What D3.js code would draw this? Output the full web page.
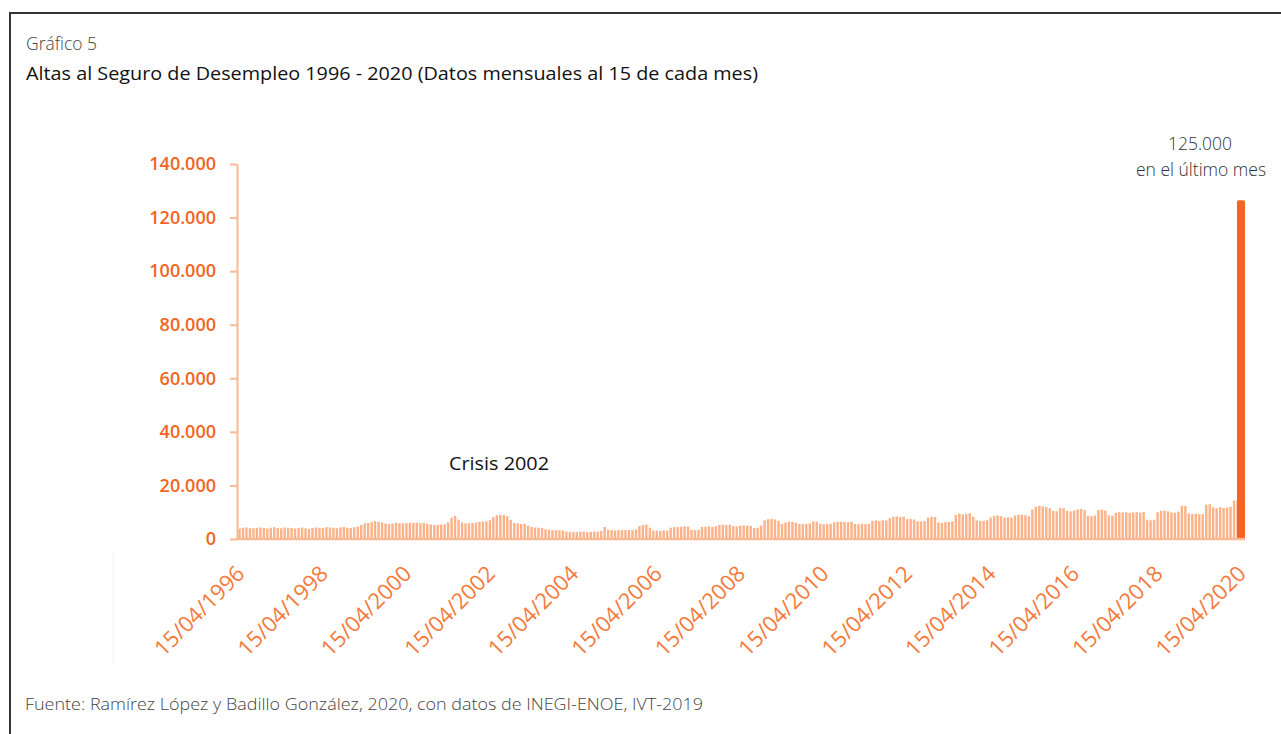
<!DOCTYPE html>
<html><head><meta charset="utf-8">
<script src="https://cdn.jsdelivr.net/npm/d3@7"></script>
<style>
html,body{margin:0;padding:0;background:#fff;}
svg{display:block;font-family:"Open Sans",sans-serif;}
</style></head>
<body>
<svg id="chart" width="1281" height="734"></svg>
<script>
// ---- DATA ----
const startYear = 1996; // series starts 15/04/1996, monthly
const values = [
 3900,4200,4300,4100,4000,4200,4300,4100,3900,4200,4400,4100,
 4000,4300,4200,4100,3900,4100,4300,4000,3800,4100,4300,4200,
 4100,4400,4300,4200,4000,4300,4500,4200,4100,4400,4600,5200,
 5800,6000,6300,6600,6400,6200,5800,5600,5700,6000,5900,5800,
 5900,6100,6000,6100,5900,6000,5700,5400,5300,5200,5400,5500,
 6200,8000,8600,7200,6200,5800,5900,6000,6100,6400,6500,6600,
 7000,8200,8900,9000,8900,8500,7200,6000,5800,5600,5700,5000,
 4500,4300,4200,4100,3600,3400,3300,3300,3200,3200,2800,2600,
 2700,2600,2700,2800,2600,2700,2800,2700,3000,4500,3400,3300,
 3200,3300,3400,3300,3400,3300,3600,4800,5200,5400,4200,3200,
 3100,3000,3200,3100,4200,4400,4500,4600,4700,4600,3500,3300,
 3400,4500,4600,4700,4500,4800,5300,5400,5200,5300,4800,4700,
 5000,5100,5000,4900,4100,4200,5000,7000,7400,7500,7300,6800,
 5600,6200,6500,6400,6100,5600,5500,5600,5800,6600,6500,5700,
 5500,5600,5700,6200,6400,6500,6400,6300,6400,5600,5500,5700,
 5600,5700,6800,6900,6700,7000,6900,7800,8300,8400,8200,8300,
 7400,7500,7300,6600,6500,6700,8000,8300,8200,6200,6000,6300,
 6400,6600,9000,9500,9200,9400,9600,8300,6900,6700,6800,7000,
 8000,8600,8800,8500,8000,8100,8000,8800,9000,9100,8900,8500,
 11000,12000,12400,12200,12000,11500,10500,10400,11600,11500,10500,10300,
 10600,11000,11200,10800,8700,8500,8800,10800,11000,10600,8800,8700,
 9800,10000,9900,10000,9700,9900,10000,9800,10100,7200,7000,7200,
 10000,10500,10600,10300,9900,9800,10200,12400,12300,9500,9300,9400,
 9200,9300,12800,13000,11800,11500,11900,11600,11700,12000,14300,14500,
 126500
];
const months = values.map((v,i)=>{
  const m = 3 + i, y = startYear + Math.floor(m/12), mm = (m%12)+1;
  return "15/" + String(mm).padStart(2,"0") + "/" + y;
});
const xTickLabels = ["15/04/1996","15/04/1998","15/04/2000","15/04/2002","15/04/2004","15/04/2006","15/04/2008","15/04/2010","15/04/2012","15/04/2014","15/04/2016","15/04/2018","15/04/2020"];
const yTicks = [0,20000,40000,60000,80000,100000,120000,140000];
const titleSmall = "Gráfico 5";
const title = "Altas al Seguro de Desempleo 1996 - 2020 (Datos mensuales al 15 de cada mes)";
const annotation = ["125.000","en el último mes"];
const crisisLabel = "Crisis 2002";
const source = "Fuente: Ramírez López y Badillo González, 2020, con datos de INEGI-ENOE, IVT-2019";

// ---- DRAW ----
const svg = d3.select("#chart");
const orange = "#f26522", light = "#fbb288", axisCol = "#f9b995";

// frame
svg.append("path").attr("d","M10,734 V13 H1281").attr("fill","none").attr("stroke","#333").attr("stroke-width",2);
// faint inner box
svg.append("path").attr("d","M113,665 V553").attr("fill","none").attr("stroke","#f2f2f2").attr("stroke-width",1);

svg.append("text").attr("x",26).attr("y",50).attr("font-size",19).attr("font-weight",300).attr("fill","#444")
  .attr("textLength",71).attr("lengthAdjust","spacingAndGlyphs").text(titleSmall);
svg.append("text").attr("x",26).attr("y",80).attr("font-size",19).attr("fill","#111")
  .attr("textLength",732).attr("lengthAdjust","spacingAndGlyphs").text(title);

const x = d3.scaleLinear().domain([0, values.length-1]).range([239.5, 1241]);
const y = d3.scaleLinear().domain([0,140000]).range([539,164]);
const loc = d3.formatLocale({decimal:",", thousands:".", grouping:[3], currency:["",""]});
const fmt = loc.format(",");

// bars
const n = values.length;
svg.append("g").selectAll("rect").data(values.slice(0,n-1)).join("rect")
  .attr("x",(d,i)=>x(i)-1.2).attr("width",2.4)
  .attr("y",d=>y(d)).attr("height",d=>y(0)-y(d))
  .attr("fill",light);
svg.append("rect").attr("x",x(n-1)-4).attr("width",8)
  .attr("y",y(values[n-1])).attr("height",y(0)-y(values[n-1]))
  .attr("rx",1.5).attr("fill",orange);

// y axis
const ya = svg.append("g").attr("transform","translate(237,0)")
  .call(d3.axisLeft(y).tickValues(yTicks).tickFormat(fmt).tickSize(7).tickSizeOuter(0).tickPadding(14));
ya.select(".domain").attr("stroke",axisCol).attr("stroke-width",2);
ya.selectAll(".tick line").attr("stroke",axisCol).attr("stroke-width",2);
ya.selectAll(".tick text").attr("fill",orange).attr("font-size",18).attr("font-weight",600)
  .attr("font-family","'Open Sans',sans-serif");

// x axis
svg.append("line").attr("x1",236).attr("x2",1245).attr("y1",y(0)).attr("y2",y(0))
  .attr("stroke",axisCol).attr("stroke-width",2.5);
const xTickIdx = xTickLabels.map(l=>months.indexOf(l));
const xa = svg.append("g").attr("transform","translate(0,"+y(0)+")")
  .call(d3.axisBottom(x).tickValues(xTickIdx).tickFormat((d,k)=>xTickLabels[k]).tickSize(0));
xa.select(".domain").remove();
xa.selectAll(".tick text")
  .attr("font-family","'Open Sans',sans-serif").attr("font-size",22).attr("fill","#f47a3c")
  .attr("text-anchor","end").attr("dy",0).attr("y",0)
  .attr("transform","translate(6,36) rotate(-45)");

// annotations
svg.append("text").attr("x",1200).attr("y",150).attr("text-anchor","middle").attr("font-size",17.5).attr("font-weight",300).attr("fill","#333").text(annotation[0]);
svg.append("text").attr("x",1201).attr("y",176).attr("text-anchor","middle").attr("font-size",17.5).attr("font-weight",300).attr("fill","#333").text(annotation[1]);
svg.append("text").attr("x",449).attr("y",470).attr("font-size",19).attr("fill","#111")
  .attr("textLength",100).attr("lengthAdjust","spacingAndGlyphs").text(crisisLabel);
svg.append("text").attr("x",25).attr("y",710).attr("font-size",17).attr("font-weight",300).attr("fill","#444")
  .attr("textLength",678).attr("lengthAdjust","spacingAndGlyphs").text(source);
</script>
</body></html>
